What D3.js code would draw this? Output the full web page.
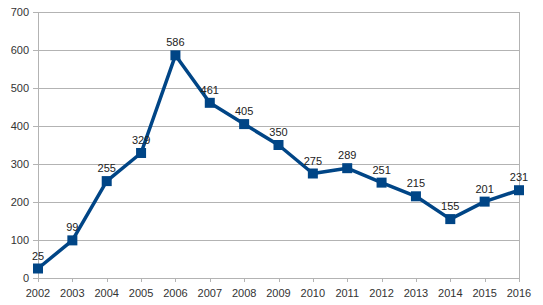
<!DOCTYPE html>
<html><head><meta charset="utf-8">
<script src="https://cdn.jsdelivr.net/npm/d3@7/dist/d3.min.js"></script>
<style>body{margin:0;background:#fff}svg{display:block}text{font-family:"Liberation Sans",Arial,sans-serif}</style>
</head><body>
<script>
const years = [2002,2003,2004,2005,2006,2007,2008,2009,2010,2011,2012,2013,2014,2015,2016];
const values = [25,99,255,329,586,461,405,350,275,289,251,215,155,201,231];
const yTicks = [0,100,200,300,400,500,600,700];

(function(){
const W = 543, H = 305;
const mL = 38, mR = 519, mT = 12, mB = 278;
const svg = d3.select("body").append("svg").attr("width", W).attr("height", H);
const x = d3.scalePoint().domain(years).range([mL, mR]);
const y = d3.scaleLinear().domain([0, 700]).range([mB, mT]);

// grid
svg.append("g").selectAll("line").data(yTicks).join("line")
  .attr("x1", mL - 5).attr("x2", mR)
  .attr("y1", d => Math.round(y(d)) + 0.5).attr("y2", d => Math.round(y(d)) + 0.5)
  .attr("stroke", "#b3b3b3").attr("stroke-width", 1);
svg.append("line").attr("x1", mL + 0.5).attr("x2", mL + 0.5).attr("y1", mT).attr("y2", mB + 4)
  .attr("stroke", "#b3b3b3");
svg.append("line").attr("x1", mR + 0.5).attr("x2", mR + 0.5).attr("y1", mT).attr("y2", mB + 4)
  .attr("stroke", "#b3b3b3");
svg.append("g").selectAll("line").data(years).join("line")
  .attr("x1", d => Math.round(x(d)) + 0.5).attr("x2", d => Math.round(x(d)) + 0.5)
  .attr("y1", mB).attr("y2", mB + 4)
  .attr("stroke", "#b3b3b3");

// y labels
svg.append("g").selectAll("text").data(yTicks).join("text")
  .attr("x", mL - 9).attr("y", d => y(d) + 4)
  .attr("text-anchor", "end").attr("font-size", 11).attr("fill", "#333")
  .text(d => d);
// x labels
svg.append("g").selectAll("text").data(years).join("text")
  .attr("x", d => x(d)).attr("y", mB + 19)
  .attr("text-anchor", "middle").attr("font-size", 11).attr("fill", "#333")
  .text(d => d);

const pts = years.map((yr, i) => [yr, values[i]]);
svg.append("path").datum(pts)
  .attr("d", d3.line().x(d => x(d[0])).y(d => y(d[1])))
  .attr("fill", "none").attr("stroke", "#004586").attr("stroke-width", 3.5).attr("stroke-linejoin","round");
svg.append("g").selectAll("rect").data(pts).join("rect")
  .attr("x", d => x(d[0]) - 5).attr("y", d => y(d[1]) - 5)
  .attr("width", 10).attr("height", 10).attr("fill", "#004586");
svg.append("g").selectAll("text").data(pts).join("text")
  .attr("x", d => x(d[0])).attr("y", d => y(d[1]) - 9)
  .attr("text-anchor", "middle").attr("font-size", 11).attr("fill", "#222")
  .text(d => d[1]);
})();
</script>
</body></html>
